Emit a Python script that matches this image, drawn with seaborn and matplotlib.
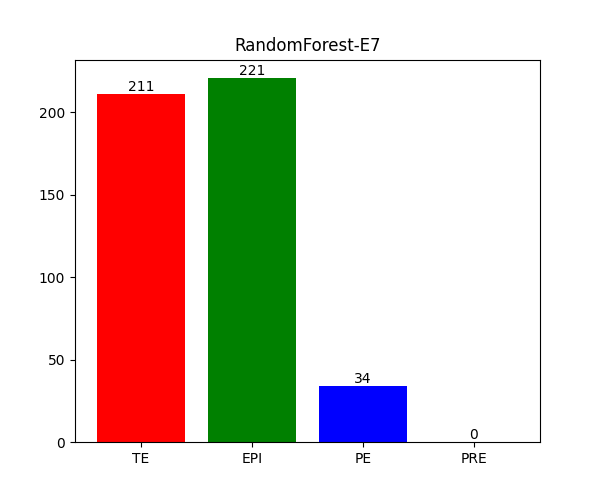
import matplotlib
matplotlib.use("Agg")
import matplotlib.pyplot as plt
import seaborn as sns
import pandas as pd

categories = ["TE", "EPI", "PE", "PRE"]
values = [211, 221, 34, 0]
colors = ["red", "green", "blue", "purple"]

df = pd.DataFrame({"cat": categories, "val": values})
fig, ax = plt.subplots(figsize=(6, 4.97), dpi=100)
sns.barplot(data=df, x="cat", y="val", hue="cat", palette=colors, legend=False,
            width=0.8, saturation=1, ax=ax)
for c in ax.containers:
    ax.bar_label(c)
ax.set_xlim(-0.595, 3.595)
ax.set_ylim(0, 232)
ax.set_xlabel("")
ax.set_ylabel("")
ax.set_title("RandomForest-E7")
fig.savefig("out.png")
